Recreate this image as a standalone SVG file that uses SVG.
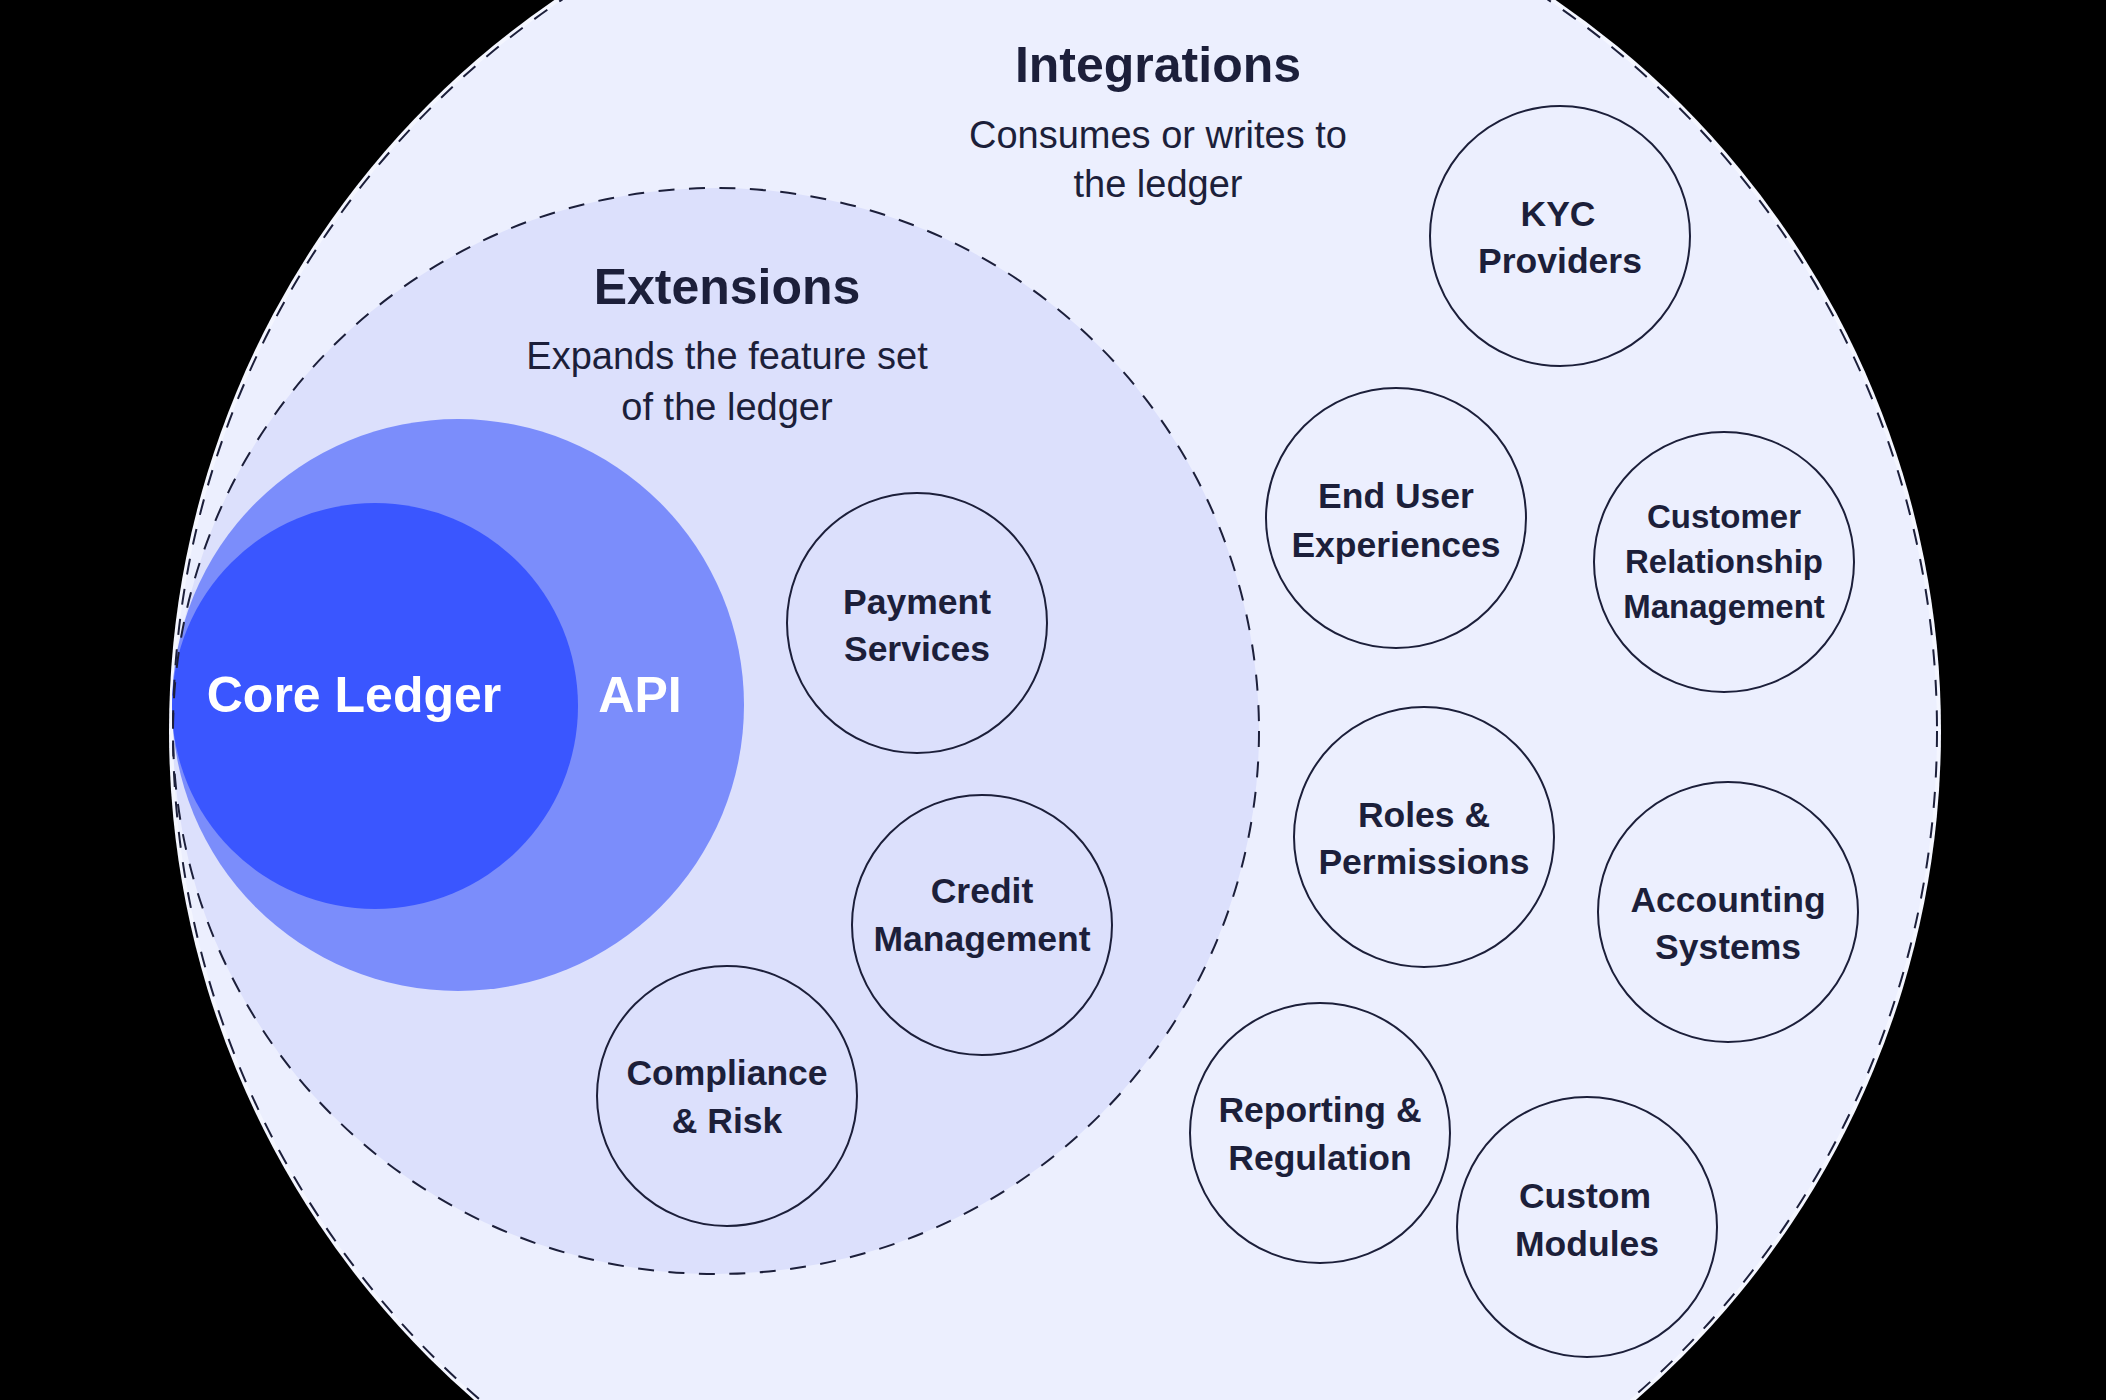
<svg xmlns="http://www.w3.org/2000/svg" width="2106" height="1400" viewBox="0 0 2106 1400">
  <style>
    .title { font-family: "Liberation Sans", Arial, sans-serif; font-weight: 700; font-size: 50px; fill: #1c1f3a; text-anchor: middle; }
    .sub { font-family: "Liberation Sans", Arial, sans-serif; font-weight: 400; font-size: 38px; fill: #1c1f3a; text-anchor: middle; }
    .lbl { font-family: "Liberation Sans", Arial, sans-serif; font-weight: 700; font-size: 35.5px; fill: #1c1f3a; text-anchor: middle; }
    .lbl-s { font-size: 33px; }
    .core-t { font-family: "Liberation Sans", Arial, sans-serif; font-weight: 700; font-size: 50px; fill: #ffffff; text-anchor: middle; }
    .node { fill: none; stroke: #1c1f3a; stroke-width: 2; }
    .bound { fill: none; stroke: #1c1f3a; stroke-width: 2; stroke-dasharray: 16 14.5; }
  </style>
  <rect x="0" y="0" width="2106" height="1400" fill="#000000"/>

  <g id="integrations">
    <circle cx="1055" cy="731" r="886" fill="#f4f6ff"/>
    <circle cx="1055" cy="731" r="882" fill="#eceffe"/>
  </g>
  <g id="extensions">
    <circle cx="716" cy="731" r="543" fill="#dce0fc"/>
  </g>
  <g id="api">
    <circle cx="458" cy="705" r="286" fill="#7b8dfb"/>
  </g>
  <g id="core-ledger">
    <circle cx="375" cy="706" r="203" fill="#3a56ff"/>
  </g>

  <g id="boundaries">
    <circle class="bound" cx="1055" cy="731" r="882"/>
    <circle class="bound" cx="716" cy="731" r="543"/>
  </g>

  <g id="labels">
    <text class="title" x="1158" y="82">Integrations</text>
    <text class="sub" x="1158" y="148">Consumes or writes to</text>
    <text class="sub" x="1158" y="197">the ledger</text>
    <text class="title" x="727" y="304">Extensions</text>
    <text class="sub" x="727" y="369">Expands the feature set</text>
    <text class="sub" x="727" y="420">of the ledger</text>
    <text class="core-t" x="354" y="712">Core Ledger</text>
    <text class="core-t" x="640" y="712">API</text>
  </g>

  <g id="connectors"></g>

  <g id="node-payment">
    <circle class="node" cx="917" cy="623" r="130"/>
    <text class="lbl" x="917" y="614">Payment</text>
    <text class="lbl" x="917" y="661">Services</text>
  </g>
  <g id="node-credit">
    <circle class="node" cx="982" cy="925" r="130"/>
    <text class="lbl" x="982" y="903">Credit</text>
    <text class="lbl" x="982" y="951">Management</text>
  </g>
  <g id="node-compliance">
    <circle class="node" cx="727" cy="1096" r="130"/>
    <text class="lbl" x="727" y="1085">Compliance</text>
    <text class="lbl" x="727" y="1133">&amp; Risk</text>
  </g>
  <g id="node-kyc">
    <circle class="node" cx="1560" cy="236" r="130"/>
    <text class="lbl" x="1558" y="226">KYC</text>
    <text class="lbl" x="1560" y="273">Providers</text>
  </g>
  <g id="node-end-user">
    <circle class="node" cx="1396" cy="518" r="130"/>
    <text class="lbl" x="1396" y="508">End User</text>
    <text class="lbl" x="1396" y="557">Experiences</text>
  </g>
  <g id="node-crm">
    <circle class="node" cx="1724" cy="562" r="130"/>
    <text class="lbl lbl-s" x="1724" y="528">Customer</text>
    <text class="lbl lbl-s" x="1724" y="573">Relationship</text>
    <text class="lbl lbl-s" x="1724" y="618">Management</text>
  </g>
  <g id="node-roles">
    <circle class="node" cx="1424" cy="837" r="130"/>
    <text class="lbl" x="1424" y="827">Roles &amp;</text>
    <text class="lbl" x="1424" y="874">Permissions</text>
  </g>
  <g id="node-accounting">
    <circle class="node" cx="1728" cy="912" r="130"/>
    <text class="lbl" x="1728" y="912">Accounting</text>
    <text class="lbl" x="1728" y="959">Systems</text>
  </g>
  <g id="node-reporting">
    <circle class="node" cx="1320" cy="1133" r="130"/>
    <text class="lbl" x="1320" y="1122">Reporting &amp;</text>
    <text class="lbl" x="1320" y="1170">Regulation</text>
  </g>
  <g id="node-custom">
    <circle class="node" cx="1587" cy="1227" r="130"/>
    <text class="lbl" x="1585" y="1208">Custom</text>
    <text class="lbl" x="1587" y="1256">Modules</text>
  </g>
</svg>
